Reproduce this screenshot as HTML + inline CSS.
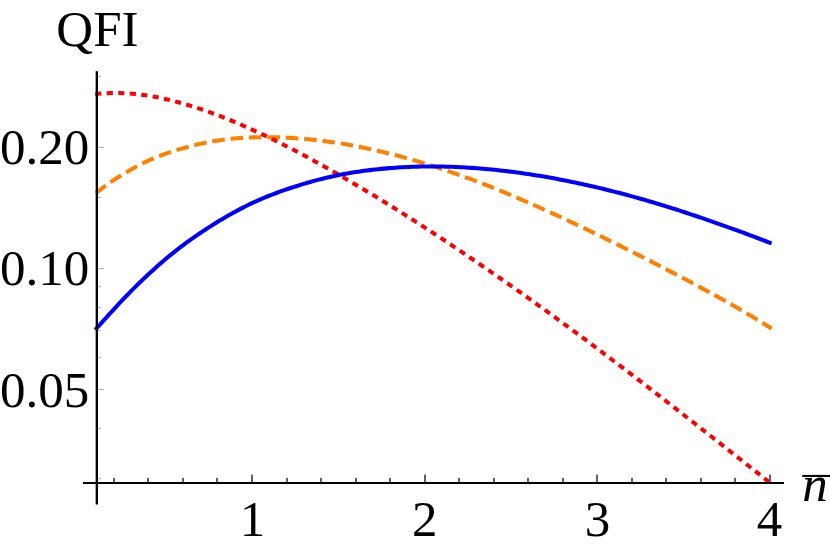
<!DOCTYPE html>
<html><head><meta charset="utf-8"><title>QFI plot</title>
<style>
html,body{margin:0;padding:0;background:#fff;}
body{width:830px;height:551px;overflow:hidden;}
svg{display:block;}
text{font-family:"Liberation Serif",serif;font-size:50px;fill:#000;}
</style></head><body>
<svg width="830" height="551" viewBox="0 0 830 551">
<rect width="830" height="551" fill="#fff"/>
<defs><clipPath id="cp"><rect x="90" y="0" width="680.3" height="483"/></clipPath></defs>
<g fill="none" stroke-width="4.05" stroke-linecap="butt" stroke-linejoin="round">
<path d="M95.20,193.76 L98.03,191.49 L100.86,189.29 L103.69,187.15 L106.52,185.09 L109.35,183.08 L112.18,181.14 L115.01,179.25 L117.84,177.43 L120.67,175.66 L123.50,173.95 L126.33,172.29 L129.16,170.63 L131.99,168.99 L134.82,167.39 L137.65,165.85 L140.48,164.39 L143.31,162.98 L146.14,161.63 L148.97,160.32 L151.80,159.08 L154.63,157.89 L157.46,156.76 L160.29,155.67 L163.12,154.63 L165.95,153.62 L168.78,152.65 L171.61,151.72 L174.44,150.82 L177.27,149.94 L180.10,149.09 L182.93,148.26 L185.76,147.47 L188.59,146.70 L191.42,145.95 L194.25,145.24 L197.08,144.56 L199.91,143.90 L202.74,143.28 L205.57,142.69 L208.41,142.13 L211.24,141.60 L214.07,141.10 L216.90,140.63 L219.73,140.20 L222.56,139.81 L225.39,139.44 L228.22,139.12 L231.05,138.83 L233.88,138.56 L236.71,138.32 L239.54,138.11 L242.37,137.91 L245.20,137.75 L248.03,137.60 L250.86,137.47 L253.69,137.37 L256.52,137.29 L259.35,137.23 L262.18,137.19 L265.01,137.17 L267.84,137.17 L270.67,137.20 L273.50,137.24 L276.33,137.30 L279.16,137.38 L281.99,137.48 L284.82,137.60 L287.65,137.73 L290.48,137.89 L293.31,138.06 L296.14,138.26 L298.97,138.46 L301.80,138.69 L304.63,138.94 L307.46,139.20 L310.29,139.48 L313.12,139.77 L315.95,140.08 L318.78,140.41 L321.61,140.76 L324.44,141.12 L327.27,141.50 L330.10,141.89 L332.93,142.30 L335.76,142.73 L338.59,143.17 L341.42,143.62 L344.25,144.09 L347.08,144.58 L349.91,145.08 L352.74,145.60 L355.57,146.13 L358.40,146.68 L361.23,147.24 L364.06,147.81 L366.89,148.40 L369.72,149.01 L372.55,149.63 L375.38,150.26 L378.21,150.91 L381.04,151.57 L383.87,152.24 L386.70,152.93 L389.53,153.63 L392.36,154.35 L395.19,155.08 L398.02,155.82 L400.85,156.58 L403.68,157.34 L406.51,158.13 L409.34,158.92 L412.17,159.73 L415.00,160.55 L417.83,161.38 L420.66,162.23 L423.49,163.08 L426.32,163.96 L429.15,164.84 L431.98,165.73 L434.82,166.64 L437.65,167.56 L440.48,168.49 L443.31,169.43 L446.14,170.38 L448.97,171.35 L451.80,172.32 L454.63,173.31 L457.46,174.31 L460.29,175.32 L463.12,176.34 L465.95,177.37 L468.78,178.41 L471.61,179.46 L474.44,180.52 L477.27,181.60 L480.10,182.68 L482.93,183.77 L485.76,184.87 L488.59,185.99 L491.42,187.11 L494.25,188.24 L497.08,189.38 L499.91,190.53 L502.74,191.69 L505.57,192.85 L508.40,194.03 L511.23,195.21 L514.06,196.41 L516.89,197.61 L519.72,198.82 L522.55,200.03 L525.38,201.26 L528.21,202.49 L531.04,203.73 L533.87,204.98 L536.70,206.23 L539.53,207.50 L542.36,208.76 L545.19,210.04 L548.02,211.32 L550.85,212.61 L553.68,213.91 L556.51,215.21 L559.34,216.52 L562.17,217.83 L565.00,219.15 L567.83,220.48 L570.66,221.81 L573.49,223.14 L576.32,224.48 L579.15,225.83 L581.98,227.18 L584.81,228.54 L587.64,229.90 L590.47,231.27 L593.30,232.64 L596.13,234.01 L598.96,235.39 L601.79,236.78 L604.62,238.17 L607.45,239.56 L610.28,240.95 L613.11,242.36 L615.94,243.76 L618.77,245.17 L621.60,246.58 L624.43,247.99 L627.26,249.41 L630.09,250.84 L632.92,252.26 L635.75,253.69 L638.58,255.13 L641.41,256.56 L644.24,258.00 L647.07,259.45 L649.90,260.89 L652.73,262.34 L655.56,263.80 L658.39,265.26 L661.23,266.72 L664.06,268.18 L666.89,269.65 L669.72,271.12 L672.55,272.60 L675.38,274.08 L678.21,275.57 L681.04,277.05 L683.87,278.55 L686.70,280.05 L689.53,281.55 L692.36,283.06 L695.19,284.57 L698.02,286.09 L700.85,287.61 L703.68,289.14 L706.51,290.68 L709.34,292.22 L712.17,293.77 L715.00,295.32 L717.83,296.89 L720.66,298.46 L723.49,300.04 L726.32,301.62 L729.15,303.22 L731.98,304.82 L734.81,306.44 L737.64,308.06 L740.47,309.70 L743.30,311.34 L746.13,313.00 L748.96,314.67 L751.79,316.35 L754.62,318.05 L757.45,319.76 L760.28,321.49 L763.11,323.23 L765.94,324.98 L768.77,326.76 L771.60,328.55" stroke="#ff8000" stroke-dasharray="12.6 5.82" stroke-dashoffset="-0.8"/>
<path d="M95.20,94.01 L98.03,93.76 L100.86,93.54 L103.70,93.37 L106.53,93.23 L109.36,93.12 L112.19,93.05 L115.02,93.02 L117.85,93.03 L120.69,93.07 L123.52,93.16 L126.35,93.29 L129.18,93.45 L132.01,93.66 L134.85,93.92 L137.68,94.22 L140.51,94.56 L143.34,94.94 L146.17,95.36 L149.00,95.81 L151.84,96.29 L154.67,96.80 L157.50,97.35 L160.33,97.92 L163.16,98.53 L165.99,99.16 L168.83,99.82 L171.66,100.51 L174.49,101.23 L177.32,101.97 L180.15,102.74 L182.99,103.54 L185.82,104.36 L188.65,105.20 L191.48,106.07 L194.31,106.96 L197.14,107.88 L199.98,108.82 L202.81,109.78 L205.64,110.76 L208.47,111.76 L211.30,112.79 L214.14,113.83 L216.97,114.90 L219.80,115.98 L222.63,117.08 L225.46,118.21 L228.29,119.35 L231.13,120.50 L233.96,121.68 L236.79,122.87 L239.62,124.08 L242.45,125.31 L245.29,126.55 L248.12,127.81 L250.95,129.08 L253.78,130.37 L256.61,131.67 L259.44,132.99 L262.28,134.32 L265.11,135.66 L267.94,137.02 L270.77,138.39 L273.60,139.78 L276.44,141.18 L279.27,142.59 L282.10,144.01 L284.93,145.45 L287.76,146.89 L290.59,148.35 L293.43,149.82 L296.26,151.30 L299.09,152.79 L301.92,154.30 L304.75,155.81 L307.58,157.33 L310.42,158.87 L313.25,160.41 L316.08,161.96 L318.91,163.53 L321.74,165.10 L324.58,166.68 L327.41,168.27 L330.24,169.87 L333.07,171.48 L335.90,173.09 L338.73,174.72 L341.57,176.35 L344.40,177.99 L347.23,179.64 L350.06,181.30 L352.89,182.96 L355.73,184.64 L358.56,186.32 L361.39,188.01 L364.22,189.70 L367.05,191.40 L369.88,193.11 L372.72,194.83 L375.55,196.55 L378.38,198.28 L381.21,200.02 L384.04,201.77 L386.88,203.52 L389.71,205.27 L392.54,207.04 L395.37,208.81 L398.20,210.58 L401.03,212.36 L403.87,214.15 L406.70,215.95 L409.53,217.75 L412.36,219.55 L415.19,221.37 L418.03,223.18 L420.86,225.01 L423.69,226.84 L426.52,228.67 L429.35,230.51 L432.18,232.36 L435.02,234.21 L437.85,236.07 L440.68,237.93 L443.51,239.80 L446.34,241.68 L449.17,243.56 L452.01,245.44 L454.84,247.33 L457.67,249.23 L460.50,251.13 L463.33,253.03 L466.17,254.94 L469.00,256.86 L471.83,258.78 L474.66,260.70 L477.49,262.64 L480.32,264.57 L483.16,266.51 L485.99,268.46 L488.82,270.41 L491.65,272.36 L494.48,274.33 L497.32,276.29 L500.15,278.26 L502.98,280.24 L505.81,282.22 L508.64,284.20 L511.47,286.19 L514.31,288.18 L517.14,290.18 L519.97,292.19 L522.80,294.19 L525.63,296.21 L528.47,298.22 L531.30,300.25 L534.13,302.27 L536.96,304.30 L539.79,306.34 L542.62,308.38 L545.46,310.42 L548.29,312.47 L551.12,314.52 L553.95,316.58 L556.78,318.64 L559.62,320.71 L562.45,322.78 L565.28,324.85 L568.11,326.93 L570.94,329.01 L573.77,331.10 L576.61,333.19 L579.44,335.29 L582.27,337.39 L585.10,339.49 L587.93,341.60 L590.76,343.71 L593.60,345.82 L596.43,347.94 L599.26,350.07 L602.09,352.19 L604.92,354.32 L607.76,356.46 L610.59,358.59 L613.42,360.74 L616.25,362.88 L619.08,365.03 L621.91,367.18 L624.75,369.34 L627.58,371.49 L630.41,373.66 L633.24,375.82 L636.07,377.99 L638.91,380.16 L641.74,382.33 L644.57,384.51 L647.40,386.69 L650.23,388.87 L653.06,391.06 L655.90,393.25 L658.73,395.44 L661.56,397.63 L664.39,399.83 L667.22,402.03 L670.06,404.23 L672.89,406.43 L675.72,408.64 L678.55,410.85 L681.38,413.05 L684.21,415.27 L687.05,417.48 L689.88,419.70 L692.71,421.91 L695.54,424.13 L698.37,426.35 L701.21,428.57 L704.04,430.80 L706.87,433.02 L709.70,435.25 L712.53,437.47 L715.36,439.70 L718.20,441.93 L721.03,444.16 L723.86,446.39 L726.69,448.62 L729.52,450.85 L732.35,453.08 L735.19,455.31 L738.02,457.54 L740.85,459.77 L743.68,462.01 L746.51,464.24 L749.35,466.47 L752.18,468.70 L755.01,470.93 L757.84,473.16 L760.67,475.39 L763.50,477.61 L766.34,479.84 L769.17,482.06 L772.00,484.29" stroke="#ff0000" clip-path="url(#cp)" stroke-dasharray="6.2 5.325"/>
<path d="M95.20,329.94 L98.03,326.75 L100.86,323.57 L103.69,320.40 L106.52,317.27 L109.35,314.16 L112.18,311.08 L115.01,308.01 L117.84,304.96 L120.67,301.94 L123.50,298.95 L126.33,295.99 L129.16,293.08 L131.99,290.20 L134.82,287.36 L137.65,284.55 L140.48,281.80 L143.31,279.09 L146.14,276.42 L148.97,273.79 L151.80,271.19 L154.63,268.63 L157.46,266.11 L160.29,263.62 L163.12,261.18 L165.95,258.78 L168.78,256.43 L171.61,254.11 L174.44,251.84 L177.27,249.62 L180.10,247.44 L182.93,245.31 L185.76,243.21 L188.59,241.15 L191.42,239.12 L194.25,237.13 L197.08,235.18 L199.91,233.26 L202.74,231.36 L205.57,229.50 L208.41,227.66 L211.24,225.86 L214.07,224.07 L216.90,222.32 L219.73,220.60 L222.56,218.90 L225.39,217.24 L228.22,215.60 L231.05,214.00 L233.88,212.43 L236.71,210.89 L239.54,209.38 L242.37,207.90 L245.20,206.46 L248.03,205.05 L250.86,203.68 L253.69,202.35 L256.52,201.05 L259.35,199.80 L262.18,198.58 L265.01,197.40 L267.84,196.25 L270.67,195.13 L273.50,194.04 L276.33,192.98 L279.16,191.94 L281.99,190.94 L284.82,189.95 L287.65,188.98 L290.48,188.04 L293.31,187.11 L296.14,186.20 L298.97,185.31 L301.80,184.43 L304.63,183.58 L307.46,182.75 L310.29,181.94 L313.12,181.15 L315.95,180.39 L318.78,179.65 L321.61,178.93 L324.44,178.24 L327.27,177.56 L330.10,176.91 L332.93,176.29 L335.76,175.68 L338.59,175.10 L341.42,174.54 L344.25,174.00 L347.08,173.48 L349.91,172.99 L352.74,172.52 L355.57,172.07 L358.40,171.64 L361.23,171.23 L364.06,170.84 L366.89,170.47 L369.72,170.12 L372.55,169.79 L375.38,169.47 L378.21,169.17 L381.04,168.89 L383.87,168.62 L386.70,168.37 L389.53,168.13 L392.36,167.91 L395.19,167.70 L398.02,167.51 L400.85,167.34 L403.68,167.18 L406.51,167.04 L409.34,166.91 L412.17,166.80 L415.00,166.71 L417.83,166.63 L420.66,166.57 L423.49,166.52 L426.32,166.49 L429.15,166.47 L431.98,166.46 L434.82,166.48 L437.65,166.50 L440.48,166.54 L443.31,166.59 L446.14,166.66 L448.97,166.74 L451.80,166.84 L454.63,166.94 L457.46,167.06 L460.29,167.20 L463.12,167.35 L465.95,167.51 L468.78,167.68 L471.61,167.86 L474.44,168.06 L477.27,168.27 L480.10,168.50 L482.93,168.73 L485.76,168.98 L488.59,169.24 L491.42,169.51 L494.25,169.79 L497.08,170.09 L499.91,170.39 L502.74,170.71 L505.57,171.04 L508.40,171.38 L511.23,171.73 L514.06,172.10 L516.89,172.47 L519.72,172.86 L522.55,173.26 L525.38,173.66 L528.21,174.08 L531.04,174.51 L533.87,174.95 L536.70,175.41 L539.53,175.87 L542.36,176.34 L545.19,176.82 L548.02,177.32 L550.85,177.82 L553.68,178.34 L556.51,178.86 L559.34,179.40 L562.17,179.94 L565.00,180.50 L567.83,181.07 L570.66,181.64 L573.49,182.23 L576.32,182.82 L579.15,183.43 L581.98,184.04 L584.81,184.66 L587.64,185.29 L590.47,185.93 L593.30,186.58 L596.13,187.24 L598.96,187.90 L601.79,188.58 L604.62,189.26 L607.45,189.96 L610.28,190.66 L613.11,191.37 L615.94,192.09 L618.77,192.82 L621.60,193.56 L624.43,194.31 L627.26,195.06 L630.09,195.83 L632.92,196.61 L635.75,197.39 L638.58,198.18 L641.41,198.99 L644.24,199.80 L647.07,200.62 L649.90,201.45 L652.73,202.28 L655.56,203.13 L658.39,203.99 L661.23,204.85 L664.06,205.72 L666.89,206.60 L669.72,207.49 L672.55,208.38 L675.38,209.29 L678.21,210.19 L681.04,211.11 L683.87,212.03 L686.70,212.96 L689.53,213.90 L692.36,214.84 L695.19,215.79 L698.02,216.74 L700.85,217.70 L703.68,218.67 L706.51,219.64 L709.34,220.62 L712.17,221.60 L715.00,222.59 L717.83,223.58 L720.66,224.58 L723.49,225.58 L726.32,226.59 L729.15,227.60 L731.98,228.61 L734.81,229.63 L737.64,230.65 L740.47,231.67 L743.30,232.70 L746.13,233.74 L748.96,234.80 L751.79,235.86 L754.62,236.93 L757.45,238.01 L760.28,239.09 L763.11,240.17 L765.94,241.25 L768.77,242.33 L771.60,243.40" stroke="#0000ff"/>
</g>
<rect x="113" y="477.8" width="2" height="4.2" fill="#606060"/>
<rect x="147" y="477.8" width="2" height="4.2" fill="#606060"/>
<rect x="182" y="477.8" width="2" height="4.2" fill="#606060"/>
<rect x="216" y="477.8" width="2" height="4.2" fill="#606060"/>
<rect x="251" y="474.6" width="2" height="7.4" fill="#606060"/>
<rect x="286" y="477.8" width="2" height="4.2" fill="#606060"/>
<rect x="320" y="477.8" width="2" height="4.2" fill="#606060"/>
<rect x="355" y="477.8" width="2" height="4.2" fill="#606060"/>
<rect x="389" y="477.8" width="2" height="4.2" fill="#606060"/>
<rect x="424" y="474.6" width="2" height="7.4" fill="#606060"/>
<rect x="458" y="477.8" width="2" height="4.2" fill="#606060"/>
<rect x="493" y="477.8" width="2" height="4.2" fill="#606060"/>
<rect x="527" y="477.8" width="2" height="4.2" fill="#606060"/>
<rect x="562" y="477.8" width="2" height="4.2" fill="#606060"/>
<rect x="596" y="474.6" width="2" height="7.4" fill="#606060"/>
<rect x="631" y="477.8" width="2" height="4.2" fill="#606060"/>
<rect x="665" y="477.8" width="2" height="4.2" fill="#606060"/>
<rect x="700" y="477.8" width="2" height="4.2" fill="#606060"/>
<rect x="734" y="477.8" width="2" height="4.2" fill="#606060"/>
<rect x="769" y="474.6" width="2" height="7.4" fill="#606060"/>
<rect x="98" y="76" width="3" height="1" fill="#b4b4b4"/>
<rect x="98" y="147" width="6" height="1" fill="#b4b4b4"/>
<rect x="98" y="197" width="3" height="1" fill="#b4b4b4"/>
<rect x="98" y="268" width="6" height="1" fill="#b4b4b4"/>
<rect x="98" y="286" width="3" height="1" fill="#b4b4b4"/>
<rect x="98" y="307" width="3" height="1" fill="#b4b4b4"/>
<rect x="98" y="330" width="3" height="1" fill="#b4b4b4"/>
<rect x="98" y="357" width="3" height="1" fill="#b4b4b4"/>
<rect x="98" y="389" width="6" height="1" fill="#b4b4b4"/>
<rect x="98" y="428" width="3" height="1" fill="#b4b4b4"/>
<rect x="98" y="478" width="3" height="1" fill="#b4b4b4"/>
<rect x="95.65" y="71.2" width="2.35" height="433.3" fill="#000"/>
<rect x="83" y="482" width="701" height="2" fill="#000"/>
<text transform="translate(97.4 45.7) scale(1.02 1.012)" text-anchor="middle">QFI</text>
<text transform="translate(89.3 163.9) scale(1.02 1.012)" text-anchor="end">0.20</text>
<text transform="translate(89.3 285.4) scale(1.02 1.012)" text-anchor="end">0.10</text>
<text transform="translate(89.3 406.6) scale(1.02 1.012)" text-anchor="end">0.05</text>
<text transform="translate(252.4 535.6) scale(1.02 1.012)" text-anchor="middle">1</text>
<text transform="translate(424.8 535.6) scale(1.02 1.012)" text-anchor="middle">2</text>
<text transform="translate(597.4 535.6) scale(1.02 1.012)" text-anchor="middle">3</text>
<text transform="translate(769.4 535.6) scale(1.02 1.012)" text-anchor="middle">4</text>
<text transform="translate(802.2 500.7) scale(1.02 1.012)" font-style="italic">n</text>
<rect x="802.3" y="474.9" width="28" height="2.1" fill="#000"/>
</svg>
</body></html>
